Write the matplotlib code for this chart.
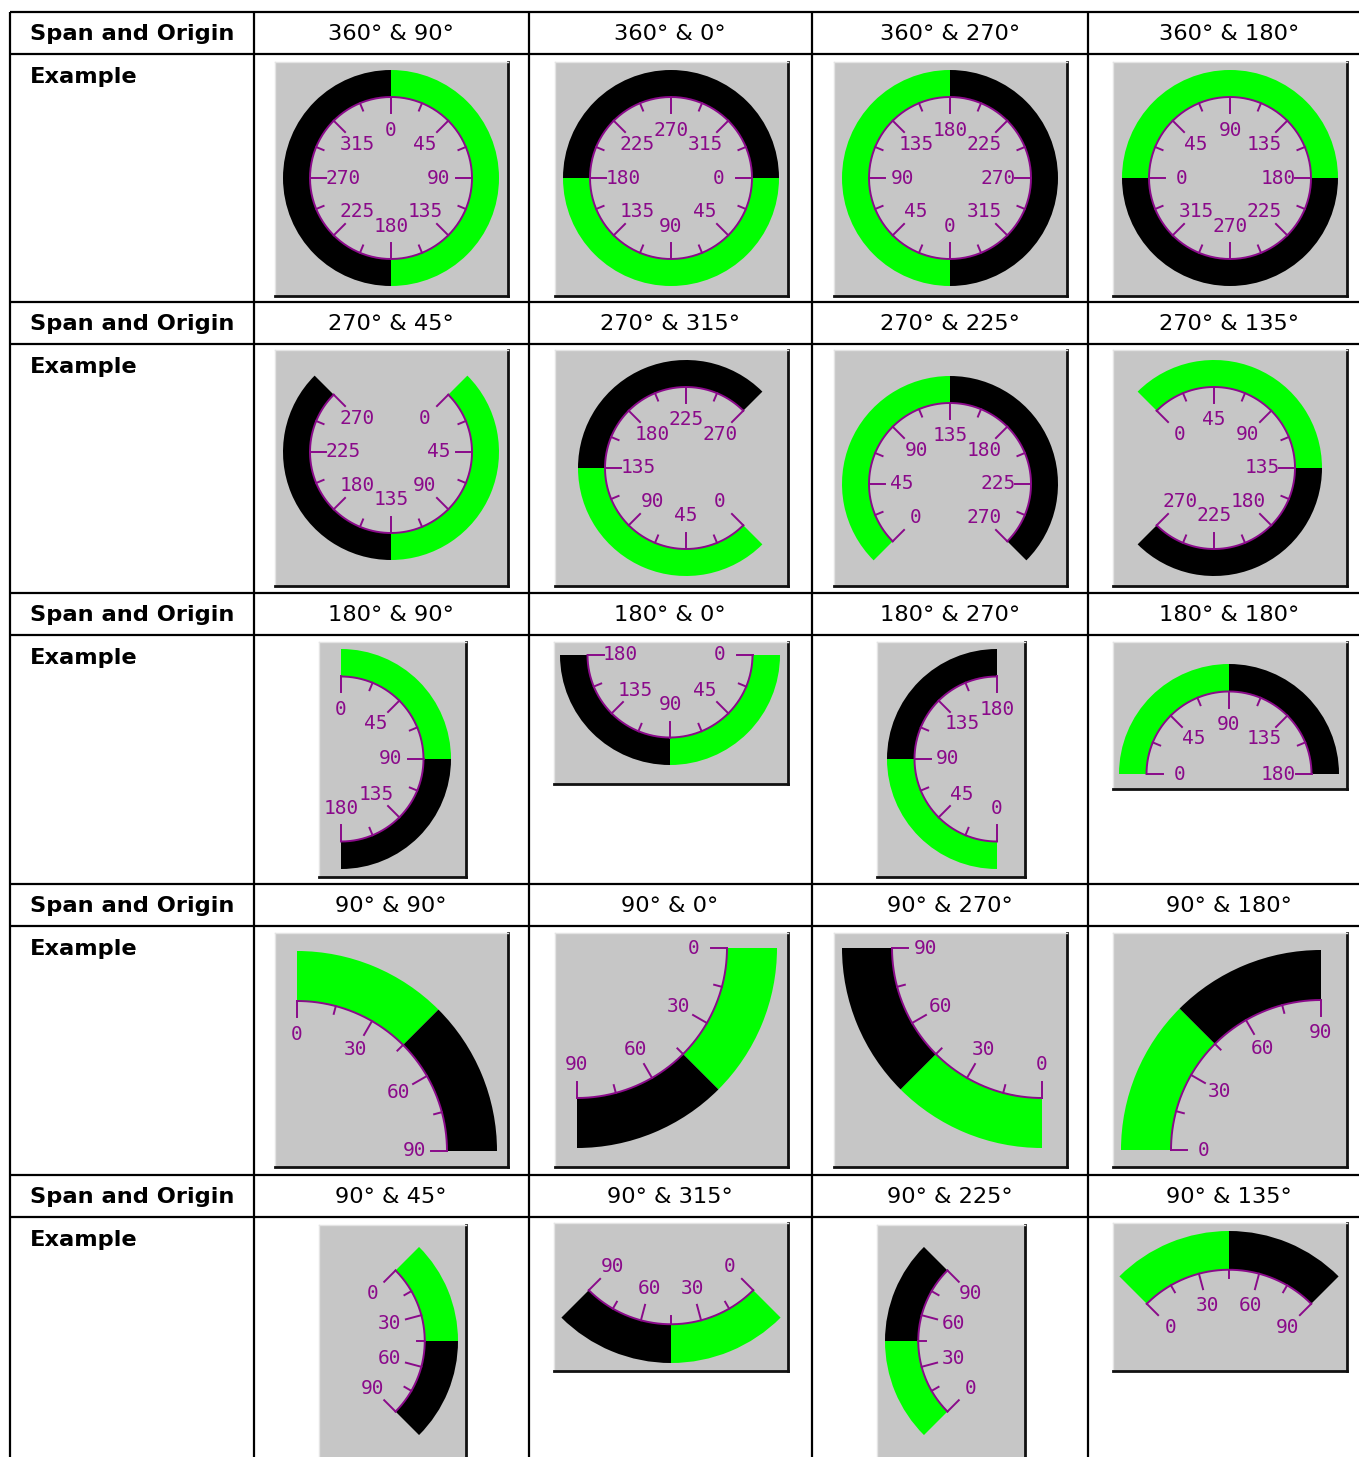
import numpy as np
import matplotlib
matplotlib.use('Agg')
import matplotlib.pyplot as plt
from matplotlib.patches import Wedge

W, H = 1359, 1457

# ---------------- data ----------------
row_spans = [360, 270, 180, 90, 90]
row_origins = [[90, 0, 270, 180],
               [45, 315, 225, 135],
               [90, 0, 270, 180],
               [90, 0, 270, 180],
               [45, 315, 225, 135]]
labels_360 = ['0', '45', '90', '135', '180', '225', '270', '315']
labels_270 = ['0', '45', '90', '135', '180', '225', '270']
labels_180 = ['0', '45', '90', '135', '180']
labels_90 = ['0', '30', '60', '90']
scale_labels = {360: labels_360, 270: labels_270, 180: labels_180, 90: labels_90}
header_text = 'Span and Origin'
example_text = 'Example'

# ---------------- layout (pixels) ----------------
col_lines = [10, 254, 529, 812, 1088]
col_centers = [391, 670, 950, 1229]
row_lines = [12, 54, 302, 344, 593, 635, 884, 926, 1175, 1217]
# panel rectangles (x0, x1, y0, y1), dial centres and outer radii
panels = [
    [(275, 508, 62, 296), (555, 788, 62, 296), (834, 1067, 62, 296), (1113, 1347, 62, 296)],
    [(275, 508, 350, 586), (555, 788, 350, 586), (834, 1067, 350, 586), (1113, 1347, 350, 586)],
    [(319, 466, 642, 877), (554, 788, 642, 784), (877, 1025, 642, 877), (1113, 1347, 642, 789)],
    [(275, 508, 933, 1167), (555, 788, 933, 1167), (834, 1067, 933, 1167), (1113, 1347, 933, 1167)],
    [(319, 466, 1225, 1462), (554, 788, 1223, 1371), (877, 1025, 1225, 1462), (1113, 1347, 1223, 1371)],
]
centers = [
    [(391, 178), (671, 178), (950, 178), (1230, 178)],
    [(391, 452), (686, 468), (950, 484), (1214, 468)],
    [(341, 759), (670, 655), (997, 759), (1229, 774)],
    [(297, 1151), (577, 948), (1042, 948), (1321, 1150)],
    [(325, 1341), (671, 1208), (1018, 1341), (1229, 1386)],
]
radii = [108, 108, 110, 200, 133]
radii_row5 = [133, 155, 133, 155]

PANEL = '#c6c6c6'
GREEN = '#00ff00'
PURPLE = '#8a0a8a'
MAJOR = 16
MINOR = 8
LABEL_OFF = 33

fig = plt.figure(figsize=(W / 100, H / 100), dpi=100)
fig.patch.set_facecolor('white')
tab = fig.add_axes([0, 0, 1, 1])
tab.set_xlim(0, W)
tab.set_ylim(H, 0)
tab.axis('off')

# table grid
for y in row_lines:
    tab.plot([col_lines[0], W], [y, y], color='black', lw=1.6, solid_capstyle='butt')
for x in col_lines:
    tab.plot([x, x], [row_lines[0], H], color='black', lw=1.6, solid_capstyle='butt')

for i in range(5):
    top = row_lines[2 * i]
    ex_top = row_lines[2 * i + 1]
    tab.text(30, top + 28, header_text, fontsize=16.2, fontweight='bold',
             family='DejaVu Sans', ha='left', va='baseline')
    tab.text(30, ex_top + 29, example_text, fontsize=16.2, fontweight='bold',
             family='DejaVu Sans', ha='left', va='baseline')
    for j in range(4):
        tab.text(col_centers[j], top + 28, f'{row_spans[i]}\u00b0 & {row_origins[i][j]}\u00b0',
                 fontsize=16.2, family='DejaVu Sans', ha='center', va='baseline')


def draw_gauge(panel, center, r_out, span, origin, labels):
    x0, x1, y0, y1 = panel
    cx, cy = center
    ax = fig.add_axes([x0 / W, 1 - y1 / H, (x1 - x0) / W, (y1 - y0) / H])
    ax.set_xlim(x0 - cx, x1 - cx)
    ax.set_ylim(cy - y1, cy - y0)
    ax.set_facecolor(PANEL)
    ax.set_xticks([])
    ax.set_yticks([])
    for s in ('left', 'top'):
        ax.spines[s].set_color('#e4e4e4')
        ax.spines[s].set_linewidth(1.0)
    for s in ('right', 'bottom'):
        ax.spines[s].set_color('#111111')
        ax.spines[s].set_linewidth(2.0)
    r_in = 0.75 * r_out

    def th(v):
        return origin - v

    ax.add_patch(Wedge((0, 0), r_out, th(span / 2), th(0), width=r_out - r_in,
                       facecolor=GREEN, edgecolor='none'))
    ax.add_patch(Wedge((0, 0), r_out, th(span), th(span / 2), width=r_out - r_in,
                       facecolor='black', edgecolor='none'))
    t = np.radians(np.linspace(th(span), th(0), 300))
    ax.plot(r_in * np.cos(t), r_in * np.sin(t), color=PURPLE, lw=1.4)
    vals = [float(l) for l in labels]
    step = vals[1] - vals[0]
    for v, lab in zip(vals, labels):
        a = np.radians(th(v))
        ax.plot([r_in * np.cos(a), (r_in - MAJOR) * np.cos(a)],
                [r_in * np.sin(a), (r_in - MAJOR) * np.sin(a)], color=PURPLE, lw=1.4)
        rl = r_in - LABEL_OFF
        ax.text(rl * np.cos(a), rl * np.sin(a), lab, ha='center', va='center',
                fontsize=14, family='DejaVu Sans Mono', color=PURPLE)
    for v in np.arange(step / 2, span, step):
        a = np.radians(th(v))
        ax.plot([r_in * np.cos(a), (r_in - MINOR) * np.cos(a)],
                [r_in * np.sin(a), (r_in - MINOR) * np.sin(a)], color=PURPLE, lw=1.4)


for i in range(5):
    for j in range(4):
        r = radii_row5[j] if i == 4 else radii[i]
        draw_gauge(panels[i][j], centers[i][j], r, row_spans[i], row_origins[i][j],
                   scale_labels[row_spans[i]])

fig.savefig('out.png', dpi=100, facecolor='white')
